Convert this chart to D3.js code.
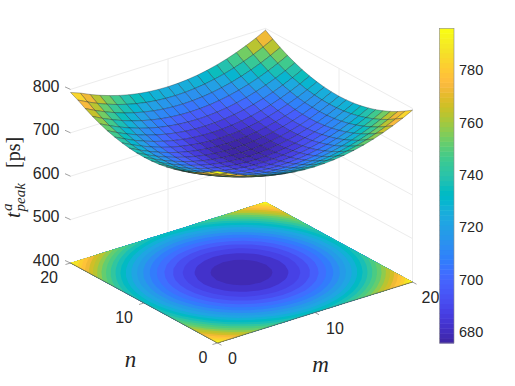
<!DOCTYPE html>
<html>
<head>
<meta charset="utf-8">
<script src="https://cdnjs.cloudflare.com/ajax/libs/d3/7.8.5/d3.min.js"></script>
<style>
    html, body { margin: 0; padding: 0; background: #fff; }
    svg { display: block; }
    text { font-family: "Liberation Sans", Arial, sans-serif; fill: #262626; }
    .tex { font-family: "Liberation Serif", "Times New Roman", serif; }
</style>
</head>
<body>
<div id="chart"></div>
<script>
// values
const mValues = d3.range(0, 21);
const nValues = d3.range(0, 21);
const mTicks = [0, 10, 20];
const nTicks = [0, 10, 20];
const zTicks = [400, 500, 600, 700, 800];
const colorbarTicks = [680, 700, 720, 740, 760, 780];
const contourLevels = [670, 680, 685, 690, 695, 700, 705, 710, 715, 720, 725, 730, 735, 740, 745, 750, 755, 760, 765, 770, 775, 780, 785, 790];

// t_peak, one row per n, one column per m
const surfaceZ = [
    [796, 784.6, 774.4, 765.4, 757.6, 751, 745.6, 741.4, 738.4, 736.6, 736, 736.6, 738.4, 741.4, 745.6, 751, 757.6, 765.4, 774.4, 784.6, 796],
    [784.6, 773.2, 763, 754, 746.2, 739.6, 734.2, 730, 727, 725.2, 724.6, 725.2, 727, 730, 734.2, 739.6, 746.2, 754, 763, 773.2, 784.6],
    [774.4, 763, 752.8, 743.8, 736, 729.4, 724, 719.8, 716.8, 715, 714.4, 715, 716.8, 719.8, 724, 729.4, 736, 743.8, 752.8, 763, 774.4],
    [765.4, 754, 743.8, 734.8, 727, 720.4, 715, 710.8, 707.8, 706, 705.4, 706, 707.8, 710.8, 715, 720.4, 727, 734.8, 743.8, 754, 765.4],
    [757.6, 746.2, 736, 727, 719.2, 712.6, 707.2, 703, 700, 698.2, 697.6, 698.2, 700, 703, 707.2, 712.6, 719.2, 727, 736, 746.2, 757.6],
    [751, 739.6, 729.4, 720.4, 712.6, 706, 700.6, 696.4, 693.4, 691.6, 691, 691.6, 693.4, 696.4, 700.6, 706, 712.6, 720.4, 729.4, 739.6, 751],
    [745.6, 734.2, 724, 715, 707.2, 700.6, 695.2, 691, 688, 686.2, 685.6, 686.2, 688, 691, 695.2, 700.6, 707.2, 715, 724, 734.2, 745.6],
    [741.4, 730, 719.8, 710.8, 703, 696.4, 691, 686.8, 683.8, 682, 681.4, 682, 683.8, 686.8, 691, 696.4, 703, 710.8, 719.8, 730, 741.4],
    [738.4, 727, 716.8, 707.8, 700, 693.4, 688, 683.8, 680.8, 679, 678.4, 679, 680.8, 683.8, 688, 693.4, 700, 707.8, 716.8, 727, 738.4],
    [736.6, 725.2, 715, 706, 698.2, 691.6, 686.2, 682, 679, 677.2, 676.6, 677.2, 679, 682, 686.2, 691.6, 698.2, 706, 715, 725.2, 736.6],
    [736, 724.6, 714.4, 705.4, 697.6, 691, 685.6, 681.4, 678.4, 676.6, 676, 676.6, 678.4, 681.4, 685.6, 691, 697.6, 705.4, 714.4, 724.6, 736],
    [736.6, 725.2, 715, 706, 698.2, 691.6, 686.2, 682, 679, 677.2, 676.6, 677.2, 679, 682, 686.2, 691.6, 698.2, 706, 715, 725.2, 736.6],
    [738.4, 727, 716.8, 707.8, 700, 693.4, 688, 683.8, 680.8, 679, 678.4, 679, 680.8, 683.8, 688, 693.4, 700, 707.8, 716.8, 727, 738.4],
    [741.4, 730, 719.8, 710.8, 703, 696.4, 691, 686.8, 683.8, 682, 681.4, 682, 683.8, 686.8, 691, 696.4, 703, 710.8, 719.8, 730, 741.4],
    [745.6, 734.2, 724, 715, 707.2, 700.6, 695.2, 691, 688, 686.2, 685.6, 686.2, 688, 691, 695.2, 700.6, 707.2, 715, 724, 734.2, 745.6],
    [751, 739.6, 729.4, 720.4, 712.6, 706, 700.6, 696.4, 693.4, 691.6, 691, 691.6, 693.4, 696.4, 700.6, 706, 712.6, 720.4, 729.4, 739.6, 751],
    [757.6, 746.2, 736, 727, 719.2, 712.6, 707.2, 703, 700, 698.2, 697.6, 698.2, 700, 703, 707.2, 712.6, 719.2, 727, 736, 746.2, 757.6],
    [765.4, 754, 743.8, 734.8, 727, 720.4, 715, 710.8, 707.8, 706, 705.4, 706, 707.8, 710.8, 715, 720.4, 727, 734.8, 743.8, 754, 765.4],
    [774.4, 763, 752.8, 743.8, 736, 729.4, 724, 719.8, 716.8, 715, 714.4, 715, 716.8, 719.8, 724, 729.4, 736, 743.8, 752.8, 763, 774.4],
    [784.6, 773.2, 763, 754, 746.2, 739.6, 734.2, 730, 727, 725.2, 724.6, 725.2, 727, 730, 734.2, 739.6, 746.2, 754, 763, 773.2, 784.6],
    [793, 784.6, 774.4, 765.4, 757.6, 751, 745.6, 741.4, 738.4, 736.6, 736, 736.6, 738.4, 741.4, 745.6, 751, 757.6, 765.4, 774.4, 784.6, 796]
];

// parula, 64 steps
const parula = [
    [.2422,.1504,.6603],[.2504,.1650,.7076],[.2578,.1818,.7511],[.2647,.1978,.7952],
    [.2706,.2147,.8364],[.2751,.2342,.8710],[.2783,.2559,.8991],[.2803,.2782,.9221],
    [.2813,.3006,.9414],[.2810,.3228,.9579],[.2795,.3447,.9717],[.2760,.3667,.9829],
    [.2699,.3892,.9906],[.2602,.4123,.9952],[.2440,.4358,.9988],[.2206,.4603,.9973],
    [.1963,.4847,.9892],[.1834,.5074,.9798],[.1786,.5289,.9682],[.1764,.5499,.9520],
    [.1687,.5703,.9359],[.1540,.5902,.9218],[.1460,.6091,.9079],[.1380,.6276,.8973],
    [.1248,.6459,.8883],[.1113,.6635,.8763],[.0952,.6798,.8598],[.0689,.6948,.8394],
    [.0297,.7082,.8163],[.0036,.7203,.7917],[.0067,.7312,.7660],[.0433,.7411,.7394],
    [.0964,.7500,.7120],[.1408,.7584,.6842],[.1717,.7670,.6554],[.1938,.7758,.6251],
    [.2161,.7843,.5923],[.2470,.7918,.5567],[.2906,.7973,.5188],[.3406,.8008,.4789],
    [.3909,.8029,.4354],[.4456,.8024,.3909],[.5044,.7993,.3480],[.5616,.7942,.3045],
    [.6174,.7876,.2612],[.6720,.7793,.2227],[.7242,.7698,.1910],[.7738,.7598,.1646],
    [.8203,.7498,.1535],[.8634,.7406,.1596],[.9035,.7330,.1774],[.9393,.7288,.2100],
    [.9728,.7298,.2394],[.9956,.7434,.2371],[.9970,.7659,.2199],[.9952,.7893,.2028],
    [.9892,.8136,.1885],[.9786,.8386,.1766],[.9676,.8639,.1643],[.9610,.8890,.1537],
    [.9597,.9135,.1423],[.9628,.9373,.1265],[.9691,.9606,.1064],[.9769,.9839,.0805]
].map(c => d3.rgb(c[0] * 255, c[1] * 255, c[2] * 255).formatHex());

const width = 515, height = 386;
const svg = d3.select("#chart").append("svg").attr("width", width).attr("height", height);

// oblique projection of the matlab view, built from one scale per axis
const originX = 217.5, originY = 343;
const mToX = d3.scaleLinear().domain([0, 20]).range([0, 195]);
const mToY = d3.scaleLinear().domain([0, 20]).range([0, -61]);
const nToX = d3.scaleLinear().domain([0, 20]).range([0, -147]);
const nToY = d3.scaleLinear().domain([0, 20]).range([0, -80]);
const zToY = d3.scaleLinear().domain([400, 800]).range([0, -173.6]);

const px = (m, n) => originX + mToX(m) + nToX(n);
const py = (m, n, z) => originY + mToY(m) + nToY(n) + zToY(z);

const color = d3.scaleQuantize().domain([675.8, 796]).range(parula);

const line = d3.line();

//Grid on the two back walls
const gridG = svg.append("g").attr("fill", "none").attr("stroke", "#ececec").attr("stroke-width", 1);
zTicks.forEach(function(z) {
    gridG.append("path").attr("d", line([[px(0, 20), py(0, 20, z)], [px(20, 20), py(20, 20, z)], [px(20, 0), py(20, 0, z)]]));
});
[[10, 20], [20, 20], [20, 10], [20, 0]].forEach(function(c) {
    gridG.append("path").attr("d", line([[px(c[0], c[1]), py(c[0], c[1], 400)], [px(c[0], c[1]), py(c[0], c[1], 800)]]));
});

//Filled contours on the floor
const contours = d3.contours().size([mValues.length, nValues.length]).smooth(true).thresholds(contourLevels)(surfaceZ.flat());
const floorProjection = d3.geoTransform({
    point: function(x, y) {
        const m = Math.max(0, Math.min(20, x - 0.5));
        const n = Math.max(0, Math.min(20, y - 0.5));
        this.stream.point(px(m, n), py(m, n, 400));
    }
});
const floorPath = d3.geoPath(floorProjection);
svg.append("g").selectAll("path").data(contours).enter().append("path")
    .attr("d", floorPath)
    .attr("fill", d => color(Math.max(d.value, 675.8) + 2.5));

// darker line along the two front edges of the floor
svg.append("path")
    .attr("d", line([[px(0, 20), py(0, 20, 400)], [px(0, 0), py(0, 0, 400)], [px(20, 0), py(20, 0, 400)]]))
    .attr("fill", "none").attr("stroke", "#555").attr("stroke-width", 0.7);

//Tick marks
const tickG = svg.append("g").attr("fill", "none").attr("stroke", "#777").attr("stroke-width", 0.7);
zTicks.forEach(function(z) {
    const x = px(0, 20), y = py(0, 20, z);
    tickG.append("path").attr("d", line([[x, y], [x - 5.5, y - 2.5]]));
});
nTicks.forEach(function(n) {
    const x = px(0, n), y = py(0, n, 400);
    tickG.append("path").attr("d", line([[x, y], [x - 5, y + 1.5]]));
});
mTicks.forEach(function(m) {
    const x = px(m, 0), y = py(m, 0, 400);
    tickG.append("path").attr("d", line([[x, y], [x + 4, y + 2.2]]));
});

//Surface facets, drawn from the back corner to the front one
const cells = [];
d3.range(nValues.length - 2, -1, -1).forEach(function(j) {
    d3.range(mValues.length - 2, -1, -1).forEach(function(i) {
        cells.push({i: i, j: j});
    });
});
cells.sort((a, b) => (b.i + b.j) - (a.i + a.j));

svg.append("g").selectAll("path").data(cells).enter().append("path")
    .attr("d", function(d) {
        const pts = [[d.i, d.j], [d.i + 1, d.j], [d.i + 1, d.j + 1], [d.i, d.j + 1]].map(function(c) {
            return [px(mValues[c[0]], nValues[c[1]]), py(mValues[c[0]], nValues[c[1]], surfaceZ[c[1]][c[0]])];
        });
        return line(pts) + "Z";
    })
    .attr("fill", d => color(surfaceZ[d.j][d.i]))
    .attr("stroke", "#10151f")
    .attr("stroke-opacity", 0.62)
    .attr("stroke-width", 0.5);

//Axis tick labels
const labelG = svg.append("g").style("font-size", "16px");
zTicks.forEach(function(z) {
    labelG.append("text").attr("x", 59.5).attr("y", py(0, 20, z) + 2.5).attr("text-anchor", "end").text(z);
});
const nLabelPos = {0: [207.5, 363], 10: [133, 323], 20: [58, 283]};
nTicks.forEach(function(n) {
    labelG.append("text").attr("x", nLabelPos[n][0]).attr("y", nLabelPos[n][1]).attr("text-anchor", "end").text(n);
});
const mLabelPos = {0: [228, 364], 10: [326, 334], 20: [421.5, 303]};
mTicks.forEach(function(m) {
    labelG.append("text").attr("x", mLabelPos[m][0]).attr("y", mLabelPos[m][1]).text(m);
});

//Axis titles
svg.append("text").attr("class", "tex").attr("x", 130.5).attr("y", 367).attr("text-anchor", "middle")
    .style("font-size", "23px").style("font-style", "italic").text("n");
svg.append("text").attr("class", "tex").attr("x", 320.5).attr("y", 372).attr("text-anchor", "middle")
    .style("font-size", "23px").style("font-style", "italic").text("m");

const zTitle = svg.append("g").attr("transform", "translate(20,218) rotate(-90)").attr("class", "tex");
zTitle.append("text").attr("class", "tex").attr("x", 0).attr("y", 0)
    .style("font-size", "21px").style("font-style", "italic").text("t");
zTitle.append("text").attr("class", "tex").attr("x", 7).attr("y", -8)
    .style("font-size", "15px").style("font-style", "italic").text("a");
zTitle.append("text").attr("class", "tex").attr("x", 6.5).attr("y", 4.5)
    .style("font-size", "15px").style("font-style", "italic").text("peak");
zTitle.append("text").attr("class", "tex").attr("x", 50).attr("y", 0)
    .style("font-size", "20px").text("[ps]");

//Colorbar
const barX = 439.5, barWidth = 14.5;
const barScale = d3.scaleLinear().domain([675.8, 796]).range([343, 28.3]);
const barG = svg.append("g");
barG.selectAll("rect").data(parula).enter().append("rect")
    .attr("x", barX)
    .attr("width", barWidth)
    .attr("y", (d, i) => barScale(color.invertExtent(d)[1]))
    .attr("height", d => barScale(color.invertExtent(d)[0]) - barScale(color.invertExtent(d)[1]) + 0.5)
    .attr("fill", d => d);
barG.append("rect").attr("x", barX).attr("y", barScale(796)).attr("width", barWidth)
    .attr("height", barScale(675.8) - barScale(796))
    .attr("fill", "none").attr("stroke", "#8a8a8a").attr("stroke-width", 0.6);
barG.selectAll("text").data(colorbarTicks).enter().append("text")
    .attr("x", 459)
    .attr("y", d => barScale(d) + 5)
    .style("font-size", "14.5px")
    .text(d => d);
</script>
</body>
</html>
